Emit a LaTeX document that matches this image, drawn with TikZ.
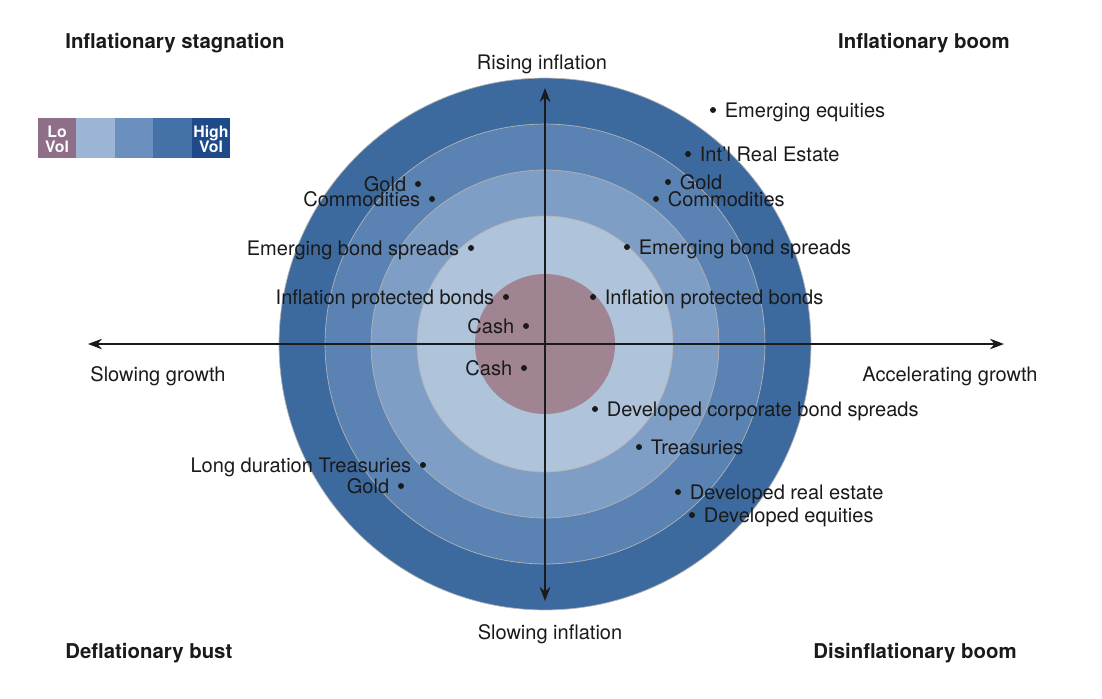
\documentclass[tikz,border=0pt]{standalone}
\usepackage{fontspec}
\setmainfont{TeX Gyre Heros}
\usepackage{tikz}
\usetikzlibrary{arrows.meta, positioning}
\usepackage{xcolor}
\definecolor{ringout}{HTML}{3C6A9F}
\definecolor{ringmid}{HTML}{5A83B3}
\definecolor{ringin}{HTML}{7E9EC5}
\definecolor{ringpale}{HTML}{AFC3DA}
\definecolor{coremauve}{HTML}{A08491}
\definecolor{vollo}{HTML}{8E6F87}
\definecolor{voltwo}{HTML}{9DB5D4}
\definecolor{volthree}{HTML}{6B90BF}
\definecolor{volfour}{HTML}{4471A7}
\definecolor{volhi}{HTML}{1E4A8A}
\definecolor{inktext}{HTML}{1A1A1A}

\tikzset{
  ring/.style={draw=black!30, line width=0.4pt},
  axisarrow/.style={line width=1.1pt, inktext,
    {Stealth[length=8pt,width=6pt]}-{Stealth[length=8pt,width=6pt]}},
  axislabel/.style={font=\fontsize{11.4}{13}\selectfont, text=inktext, inner sep=0pt,
    yshift=-1.3pt},
  regime/.style={font=\fontsize{11.6}{14}\selectfont\bfseries, text=inktext, inner sep=0pt,
    yshift=-1.6pt},
  assetL/.style={font=\fontsize{11.4}{13}\selectfont, text=inktext, anchor=mid east,
    inner ysep=0pt, inner xsep=0.23cm, yshift=-1.6pt},
  assetR/.style={font=\fontsize{11.4}{13}\selectfont, text=inktext, anchor=mid west,
    inner ysep=0pt, inner xsep=0.23cm, yshift=-1.6pt},
  voltext/.style={font=\fontsize{9}{8.6}\selectfont\bfseries, text=white, align=center, inner sep=0pt}
}

\begin{document}
\begin{tikzpicture}[x=0.02cm, y=-0.02cm]
  \useasboundingbox (0,0) rectangle (1102,698);
  \coordinate (O) at (545,344);

  % volatility rings
  \fill[ringout, ring] (O) circle (5.32cm);
  \fill[ringmid, ring] (O) circle (4.40cm);
  \fill[ringin, ring] (O) circle (3.48cm);
  \fill[ringpale, ring] (O) circle (2.56cm);
  \fill[coremauve] (O) circle (1.40cm);

  % axes
  \coordinate (west) at (88,344);
  \coordinate (east) at (1004,344);
  \coordinate (north) at (545,88);
  \coordinate (south) at (545,601);
  \draw[axisarrow] (west) -- (east);
  \draw[axisarrow] (south) -- (north);

  \node[axislabel] (risinf) at (542,62) {Rising inflation};
  \node[axislabel] (slowinf) at (550,632) {Slowing inflation};
  \node[axislabel] (slowgr) at (158,374) {Slowing growth};
  \node[axislabel] (accgr) at (950,374) {Accelerating growth};

  \node[regime, anchor=mid west] (stag) at (65,41) {Inflationary stagnation};
  \node[regime, anchor=mid east] (infboom) at (1010,41) {Inflationary boom};
  \node[regime, anchor=mid west] (defbust) at (65,651) {Deflationary bust};
  \node[regime, anchor=mid east] (disboom) at (1017,651) {Disinflationary boom};

  % assets, label left of the dot
  \foreach \px/\py/\name [count=\i] in {418/184/Gold, 432/199/Commodities,
      471/248/Emerging bond spreads, 506/297/Inflation protected bonds,
      526/326/Cash, 524/368/Cash, 423/465/Long duration Treasuries, 401/486/Gold}{
    \fill[inktext] (\px,\py) circle (1.7pt);
    \node[assetL] (al\i) at (\px,\py) {\name};
  }
  % assets, label right of the dot
  \foreach \px/\py/\name [count=\i] in {713/110/Emerging equities,
      688/154/Int’l Real Estate, 668/182/Gold, 656/199/Commodities,
      627/247/Emerging bond spreads, 593/297/Inflation protected bonds,
      595/409/Developed corporate bond spreads, 639/447/Treasuries,
      678/492/Developed real estate, 692/515/Developed equities}{
    \fill[inktext] (\px,\py) circle (1.7pt);
    \node[assetR] (ar\i) at (\px,\py) {\name};
  }

  % legend
  \foreach \c [count=\i from 0] in {vollo, voltwo, volthree, volfour, volhi}
    \fill[\c] ({38+38.4*\i},118) rectangle ++(38.4,40);
  \node[voltext] (lovol) at (57,139) {Lo\\Vol};
  \node[voltext] (hivol) at (211,139) {High\\Vol};
\end{tikzpicture}
\end{document}
